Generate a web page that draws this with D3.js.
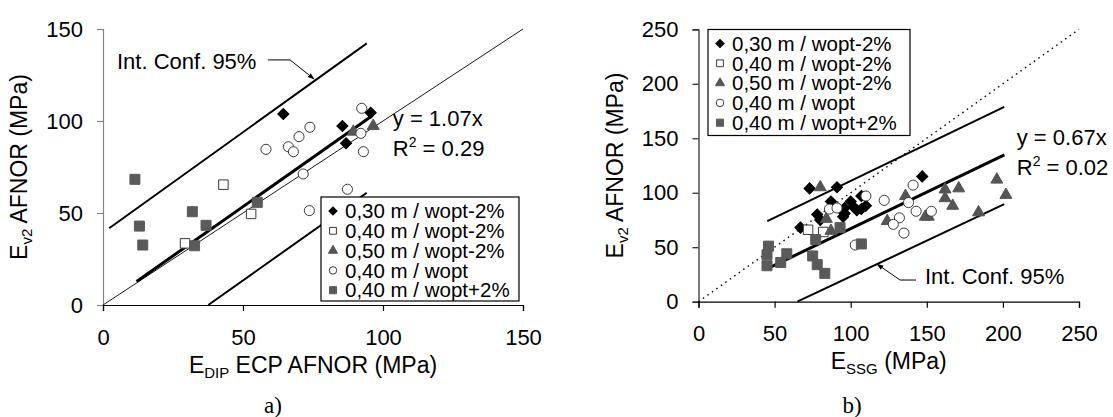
<!DOCTYPE html>
<html><head><meta charset="utf-8">
<script src="https://cdn.jsdelivr.net/npm/d3@7"></script>
<style>body{margin:0;background:#fff} text{font-family:"Liberation Sans",Arial,sans-serif;fill:#000}</style>
</head><body>
<svg id="c" width="1113" height="417"></svg>
<script>
// ---------- DATA ----------
const legendLabels = ["0,30 m / wopt-2%","0,40 m / wopt-2%","0,50 m / wopt-2%","0,40 m / wopt","0,40 m / wopt+2%"];
const ticksA = [0,50,100,150];
const ticksB = [0,50,100,150,200,250];

// chart a) : [E_DIP, E_v2]
const a_d30 = [[64.4,103.8],[85.5,97.3],[86.8,87.9],[95.6,104.5]];
const a_o40 = [[43.0,65.4],[52.9,49.5],[29.3,33.5]];
const a_t50 = [[89.4,94.2],[96.5,97.3]];
const a_c40 = [[92.4,106.9],[73.9,96.6],[70.0,91.5],[66.2,86.0],[68.0,83.3],[58.2,84.6],[92.1,93.3],[93.0,83.3],[71.5,71.2],[87.3,62.9],[73.7,51.3]];
const a_s40 = [[11.4,68.3],[13.0,42.9],[14.2,32.6],[31.9,50.7],[36.8,43.3],[32.7,32.2],[55.1,55.8]];
const a_identity = [[0,0],[150,150]];
const a_fit = [[12,12.8],[96,102.7]];
const a_ciUp = [[2.2,41.7],[94.2,142.2]];
const a_ciLow = [[37.6,0],[94.2,61]];

// chart b) : [E_SSG, E_v2]
const b_d30 = [[73,104],[91,105],[67,68],[87,92],[78,80],[80,75],[96,86],[95,78],[100,92],[104,84],[107,97],[110,88],[107,85],[147,115],[96,81],[102,87]];
const b_o40 = [[72,66],[82,64]];
const b_t50 = [[80,105],[84,76],[87,65],[124,74],[136,97],[149,78],[151,78],[162,103],[171,104],[162,95],[167,88],[184,82],[196,112],[202,98]];
const b_c40 = [[86,85],[91,86],[110,97],[103,52],[122,93],[138,91],[141,107],[143,83],[153,83],[132,77],[128,71],[135,63]];
const b_s40 = [[46,51],[45,43],[45,33],[58,44],[54,36],[77,57],[75,42],[78,34],[83,26],[93,68],[107,53]];
const b_identity = [[0,0],[250,250]];
const b_fit = [[45,30.2],[201,134.7]];
const b_ciUp = [[45.2,73.9],[200.9,178.8]];
const b_ciLow = [[64.9,0],[200.9,89.5]];

// annotation anchors (data units)
const a_annot = {text:[5,128.5], leader:[[58.9,133.2],[66.8,133.2],[75.4,122.8]]};
const b_annot = {text:[148.8,16], leader:[[142.9,19.9],[132.4,19.9],[117.3,34.5]]};
const a_eq = {pos:[103.5,97.5], eq:"y = 1.07x", r2:" = 0.29"};
const b_eq = {pos:[209.1,143.5], eq:"y = 0.67x", r2:" = 0.02"};

// ---------- STYLE ----------
const styles = [
  {type:"diamond", fill:"#000", stroke:"#000", size:62, lsize:34},
  {type:"square", fill:"#fff", stroke:"#3a3a3a", size:90, lsize:46},
  {type:"triangle", fill:"#555", stroke:"#555", size:62, lsize:36},
  {type:"circle", fill:"#fff", stroke:"#3a3a3a", size:80, lsize:44},
  {type:"square", fill:"#5a5a5a", stroke:"#5a5a5a", size:100, lsize:50}
];
const symMap = {diamond:d3.symbolSquare, square:d3.symbolSquare, triangle:d3.symbolTriangle, circle:d3.symbolCircle};

const svg = d3.select("#c");
svg.append("rect").attr("width",1113).attr("height",417).attr("fill","#fff");
const defs = svg.append("defs");
defs.append("marker").attr("id","arr").attr("viewBox","0 0 10 10").attr("refX",9).attr("refY",5)
  .attr("markerWidth",7).attr("markerHeight",7).attr("orient","auto")
  .append("path").attr("d","M0,1.5 L10,5 L0,8.5 Z").attr("fill","#000");

function drawMarker(g, st, x, y, size){
  const p = g.append("path").attr("d", d3.symbol(symMap[st.type], size)())
    .attr("fill", st.fill).attr("stroke", st.stroke).attr("stroke-width",1);
  p.attr("transform", `translate(${x},${y})` + (st.type==="diamond" ? " rotate(45)" : ""));
}

function chart(cfg){
  const {x, y, ticks, yAxisColor, series, lines, identityDash, annot, eq, legend, xSub, xRest, yTitleX, xTitleY, xPad, yPad, label, labelX} = cfg;
  const g = svg.append("g");
  // axes
  const ya = g.append("g").attr("transform",`translate(${x(0)},0)`)
    .call(d3.axisLeft(y).tickValues(ticks).tickSize(6).tickPadding(yPad).tickFormat(d3.format("d")));
  ya.selectAll("path,line").attr("stroke", yAxisColor).attr("stroke-width",1.2);
  ya.selectAll("text").attr("font-size",22).attr("font-family","Liberation Sans, Arial, sans-serif");
  const xa = g.append("g").attr("transform",`translate(0,${y(0)})`)
    .call(d3.axisBottom(x).tickValues(ticks).tickSize(6).tickPadding(xPad).tickFormat(d3.format("d")));
  xa.selectAll("path,line").attr("stroke","#000").attr("stroke-width",1.2);
  xa.selectAll("text").attr("font-size",22).attr("font-family","Liberation Sans, Arial, sans-serif");

  const line = d3.line().x(d=>x(d[0])).y(d=>y(d[1]));
  g.append("path").attr("d", line(lines.identity)).attr("fill","none").attr("stroke","#000")
    .attr("stroke-width", identityDash ? 1.4 : 0.9).attr("stroke-dasharray", identityDash || null);
  g.append("path").attr("d", line(lines.ciUp)).attr("fill","none").attr("stroke","#000").attr("stroke-width",2);
  g.append("path").attr("d", line(lines.ciLow)).attr("fill","none").attr("stroke","#000").attr("stroke-width",2);
  g.append("path").attr("d", line(lines.fit)).attr("fill","none").attr("stroke","#000").attr("stroke-width",3);

  series.forEach((s,i)=>{
    const pg = g.append("g");
    s.forEach(d=> drawMarker(pg, styles[i], x(d[0]), y(d[1]), styles[i].size));
  });

  g.append("path").attr("d", line(annot.leader)).attr("fill","none").attr("stroke","#000")
    .attr("stroke-width",1).attr("marker-end","url(#arr)");
  g.append("text").attr("x", x(annot.text[0])).attr("y", y(annot.text[1])).attr("font-size",22).text("Int. Conf. 95%");

  g.append("text").attr("x", x(eq.pos[0])).attr("y", y(eq.pos[1])).attr("font-size",22).text(eq.eq);
  const r = g.append("text").attr("x", x(eq.pos[0])).attr("y", y(eq.pos[1]) + 30).attr("font-size",22);
  r.append("tspan").text("R");
  r.append("tspan").attr("dy",-9).attr("font-size",14).text("2");
  r.append("tspan").attr("dy",9).text(eq.r2);

  const lg = g.append("g");
  lg.append("rect").attr("x",legend.x).attr("y",legend.y).attr("width",legend.w).attr("height",legend.h)
    .attr("fill","#fff").attr("stroke","#000").attr("stroke-width",1.2);
  legendLabels.forEach((t,i)=>{
    const cy = legend.y + 14 + i*19.8;
    drawMarker(lg, styles[i], legend.x + 12, cy, styles[i].lsize);
    lg.append("text").attr("x", legend.x + 24).attr("y", cy + 7.2).attr("font-size",20.5).text(t);
  });

  const xt = g.append("text").attr("x", (x.range()[0]+x.range()[1])/2).attr("y", xTitleY)
    .attr("text-anchor","middle").attr("font-size",23);
  xt.append("tspan").text("E");
  xt.append("tspan").attr("dy",5).attr("font-size",15).text(xSub);
  xt.append("tspan").attr("dy",-5).text(xRest);
  const ymid = (y.range()[0]+y.range()[1])/2;
  const yt = g.append("text").attr("transform",`translate(${yTitleX},${ymid}) rotate(-90)`)
    .attr("text-anchor","middle").attr("font-size",23);
  yt.append("tspan").text("E");
  yt.append("tspan").attr("dy",5).attr("font-size",15).text("v2");
  yt.append("tspan").attr("dy",-5).text(" AFNOR (MPa)");

  g.append("text").attr("x", labelX).attr("y", 413).attr("text-anchor","middle")
    .attr("style","font-family:'Liberation Serif','Times New Roman',serif")
    .attr("font-size",23).text(label);
}

chart({
  x: d3.scaleLinear([0,150],[103,523]), y: d3.scaleLinear([0,150],[305,29]),
  ticks: ticksA, yAxisColor:"#858585",
  series:[a_d30,a_o40,a_t50,a_c40,a_s40],
  lines:{identity:a_identity, fit:a_fit, ciUp:a_ciUp, ciLow:a_ciLow}, identityDash:null,
  annot:a_annot, eq:a_eq,
  legend:{x:321,y:197,w:198,h:104},
  xSub:"DIP", xRest:" ECP AFNOR (MPa)", xTitleY:373, yTitleX:27, xPad:18, yPad:14,
  label:"a)", labelX:273
});
chart({
  x: d3.scaleLinear([0,250],[698.5,1079]), y: d3.scaleLinear([0,250],[301.7,29.3]),
  ticks: ticksB, yAxisColor:"#222",
  series:[b_d30,b_o40,b_t50,b_c40,b_s40],
  lines:{identity:b_identity, fit:b_fit, ciUp:b_ciUp, ciLow:b_ciLow}, identityDash:"1.5,4",
  annot:b_annot, eq:b_eq,
  legend:{x:708,y:29.5,w:202,h:106},
  xSub:"SSG", xRest:" (MPa)", xTitleY:369, yTitleX:623, xPad:18, yPad:14,
  label:"b)", labelX:852
});
</script>
</body></html>
